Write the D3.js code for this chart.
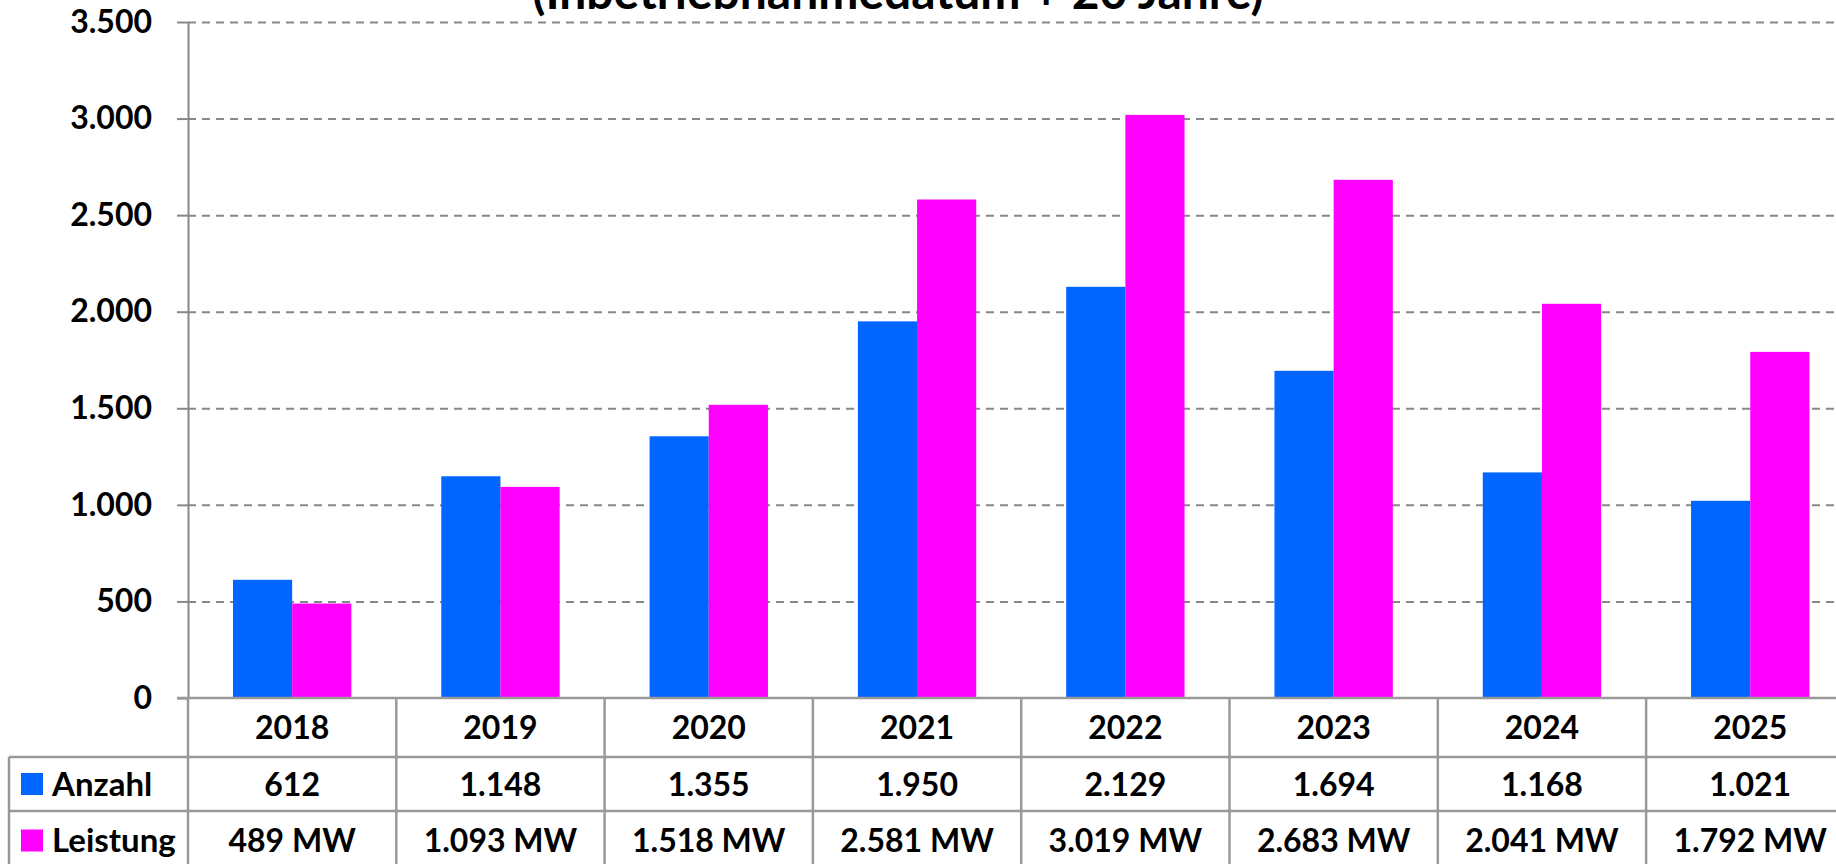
<!DOCTYPE html>
<html>
<head>
<meta charset="utf-8">
<script src="https://cdn.jsdelivr.net/npm/d3@7"></script>
<style>
  body { margin: 0; background: #fff; overflow: hidden; }
  svg { display: block; font-family: Lato, 'Open Sans', sans-serif; font-weight: bold; }
</style>
</head>
<body>
<div class="bar-chart-container"></div>
<script>
// data
const years = ['2018', '2019', '2020', '2021', '2022', '2023', '2024', '2025'];
const anzahl = [612, 1148, 1355, 1950, 2129, 1694, 1168, 1021];
const leistung = [489, 1093, 1518, 2581, 3019, 2683, 2041, 1792];
const seriesNames = ['Anzahl', 'Leistung'];
const seriesColors = ['#0066ff', '#ff00ff'];
const yTicks = [0, 500, 1000, 1500, 2000, 2500, 3000, 3500];
const titleText = '(Inbetriebnahmedatum + 20 Jahre)';

// german number format 1.148
const fmt = d3.formatLocale({ decimal: ',', thousands: '.', grouping: [3], currency: ['', ' €'] }).format(',');

const W = 1836, H = 864;
const plotLeft = 188;
const catW = 208.3;
const plotTop = 22, plotBottom = 698;
const rowLines = [698, 757, 811, 870]; // year row, Anzahl row, Leistung row
const tableLeft = 9;

const rows = years.map((y, i) => ({ year: y, values: [anzahl[i], leistung[i]] }));

const xScale = d3.scaleBand()
    .domain(years)
    .range([plotLeft, plotLeft + catW * years.length])
    .padding(0);

const xInner = d3.scaleBand()
    .domain(seriesNames)
    .range([0, xScale.bandwidth()])
    .paddingInner(0)
    .paddingOuter(0.76);

const yScale = d3.scaleLinear([0, 3500], [plotBottom, plotTop]);

const svg = d3.select('.bar-chart-container')
    .append('svg')
    .attr('width', W)
    .attr('height', H);

// title (top part runs off the picture, as in the original)
svg.append('text')
    .attr('x', 898)
    .attr('y', 9)
    .attr('text-anchor', 'middle')
    .style('font-size', '48px')
    .text(titleText);

// gridlines
const grid = d3.axisLeft(yScale)
    .tickValues(yTicks.filter(d => d > 0))
    .tickSize(-(W - plotLeft + 20))
    .tickFormat('');

svg.append('g')
    .attr('class', 'grid')
    .attr('transform', `translate(${plotLeft},0)`)
    .call(grid)
    .call(g => g.select('.domain').remove())
    .call(g => g.selectAll('line')
        .attr('stroke', '#888')
        .attr('stroke-width', 2)
        .attr('stroke-dasharray', '8,6'));

// bars
const groups = svg.selectAll('.year')
    .data(rows)
    .enter()
    .append('g')
    .attr('class', 'year')
    .attr('transform', d => `translate(${xScale(d.year)},0)`);

groups.selectAll('rect')
    .data(d => d.values.map((v, i) => ({ key: seriesNames[i], value: v, color: seriesColors[i] })))
    .enter()
    .append('rect')
    .attr('x', d => xInner(d.key))
    .attr('y', d => yScale(d.value))
    .attr('width', xInner.bandwidth())
    .attr('height', d => plotBottom - yScale(d.value))
    .style('fill', d => d.color);

// y axis
const yAxis = d3.axisLeft(yScale)
    .tickValues(yTicks)
    .tickSizeInner(11)
    .tickSizeOuter(0)
    .tickPadding(25)
    .tickFormat(fmt);

svg.append('g')
    .attr('class', 'y axis')
    .attr('transform', `translate(${plotLeft},0)`)
    .call(yAxis)
    .call(g => g.select('.domain').attr('stroke', '#888').attr('stroke-width', 2))
    .call(g => g.selectAll('line').attr('stroke', '#888').attr('stroke-width', 2))
    .call(g => g.selectAll('text')
        .attr('fill', '#000')
        .style('font-size', '32px')
        .style('font-family', 'Lato, sans-serif')
        .style('font-weight', 'bold'));

// data table below the axis
const table = svg.append('g').attr('class', 'data-table');
const lineColor = '#999';

// horizontal lines
table.append('line')
    .attr('x1', plotLeft - 11).attr('x2', W)
    .attr('y1', rowLines[0]).attr('y2', rowLines[0])
    .attr('stroke', lineColor).attr('stroke-width', 2.5);
[rowLines[1], rowLines[2]].forEach(y => {
    table.append('line')
        .attr('x1', tableLeft).attr('x2', W)
        .attr('y1', y).attr('y2', y)
        .attr('stroke', lineColor).attr('stroke-width', 2.5);
});
// left border of the legend column
table.append('line')
    .attr('x1', tableLeft).attr('x2', tableLeft)
    .attr('y1', rowLines[1]).attr('y2', H)
    .attr('stroke', lineColor).attr('stroke-width', 2.5);

// vertical lines at the category edges
table.selectAll('.vline')
    .data(years)
    .enter()
    .append('line')
    .attr('class', 'vline')
    .attr('x1', d => xScale(d)).attr('x2', d => xScale(d))
    .attr('y1', rowLines[0]).attr('y2', H)
    .attr('stroke', lineColor).attr('stroke-width', 2.5);

const cellText = (sel, rowIdx, accessor) => sel.selectAll(`.cell-${rowIdx}`)
    .data(rows)
    .enter()
    .append('text')
    .attr('class', `cell-${rowIdx}`)
    .attr('x', d => xScale(d.year) + xScale.bandwidth() / 2)
    .attr('y', (rowLines[rowIdx] + rowLines[rowIdx + 1]) / 2)
    .attr('dy', '0.36em')
    .attr('text-anchor', 'middle')
    .style('font-size', '32px')
    .text(accessor);

cellText(table, 0, d => d.year);
cellText(table, 1, d => fmt(d.values[0]));
cellText(table, 2, d => fmt(d.values[1]) + ' MW');

// legend keys in the first column
seriesNames.forEach((name, i) => {
    const cy = (rowLines[i + 1] + rowLines[i + 2]) / 2;
    table.append('rect')
        .attr('x', 21).attr('y', cy - 11)
        .attr('width', 22).attr('height', 22)
        .style('fill', seriesColors[i]);
    table.append('text')
        .attr('x', 52)
        .attr('y', cy)
        .attr('dy', '0.36em')
        .style('font-size', '33px')
        .text(name);
});
</script>
</body>
</html>
